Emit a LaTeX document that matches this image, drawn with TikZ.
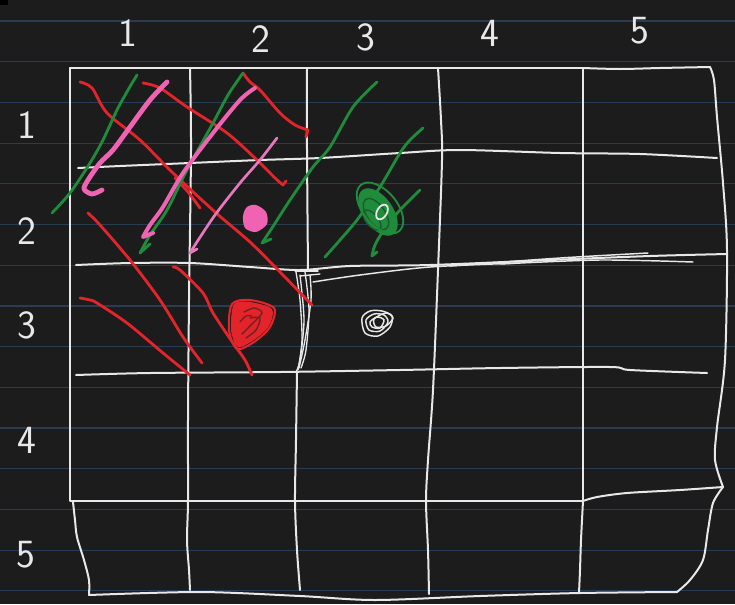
\documentclass[tikz,border=0pt]{standalone}
\usetikzlibrary{calc}
\definecolor{bg}{HTML}{1D1C1D}
\definecolor{rule}{HTML}{293C52}
\definecolor{chalk}{HTML}{E8E8E8}
\definecolor{pen red}{HTML}{E3242B}
\definecolor{pen green}{HTML}{1F8C3C}
\definecolor{pen pink}{HTML}{F062B2}
\definecolor{pen pink2}{HTML}{E878BE}
\tikzset{
  wl/.style={draw=chalk, line width=1.5pt, line cap=round, line join=round},
  rs/.style={draw=pen red, line width=2.1pt, line cap=round, line join=round},
  gs/.style={draw=pen green, line width=2.1pt, line cap=round, line join=round},
  ps/.style={draw=pen pink, line width=3.6pt, line cap=round, line join=round},
  pt/.style={draw=pen pink2, line width=2pt, line cap=round, line join=round},
  lbl/.style={text=chalk, font=\sffamily\fontsize{30}{30}\selectfont, inner sep=0pt},
}
\begin{document}
\begin{tikzpicture}[x=0.75pt,y=-0.75pt]
\useasboundingbox (0,0) rectangle (735,604);
\fill[bg] (0,0) rectangle (735,604);
\fill[black] (0,0) rectangle (8,5);
% notebook rules
\foreach \k in {0,...,14}{
  \draw[rule, line width=0.9pt] (0,{21+40.7*\k}) -- (735,{21+40.7*\k});
}
% ---------- grid ----------
\draw[wl] (70,68) -- (583,68);
\draw[wl] plot[smooth] coordinates {(583,68)(620,69)(660,68)(710,67)};
\draw[wl] plot[smooth] coordinates {(710,67)(714,80)(717,117)(723,183)(727,250)(725,360)(717,427)(715,460)(723,487)};
\draw[wl] plot[smooth] coordinates {(723,487)(713,503)(708,530)(703,560)(690,580)(677,592)};
\draw[wl] (70,68) -- (70,501) -- (583,501);
\draw[wl] plot[smooth] coordinates {(583,501)(597,497)(627,493)(680,490)(723,487)};
\draw[wl] (583,68) -- (583,501);
\draw[wl] plot[smooth] coordinates {(73,502)(75,520)(77,537)(84,560)(89,580)(89,595)};
\draw[wl] plot[smooth] coordinates {(89,595)(200,592)(300,596)(375,600)(480,596)(580,593)(677,592)};
\draw[wl] plot[smooth] coordinates {(190,68)(191,150)(189,300)(188,420)(188,501)(187,540)(189,570)(190,590)};
\draw[wl] plot[smooth] coordinates {(307,68)(307,150)(308,270)};
\draw[wl] plot[smooth] coordinates {(297,372)(296,440)(295,501)(297,550)(300,590)};
\draw[wl] plot[smooth] coordinates {(438,68)(441,120)(442,160)(438,270)(433,390)(428,460)(426,501)(428,550)(429,594)};
\draw[wl] plot[smooth] coordinates {(583,501)(581,540)(580,570)(579,593)};
\draw[wl] plot[smooth] coordinates {(78,168)(120,166)(190,163)(260,160)(320,158)(400,153)(460,150)(560,153)(640,154)(717,158)};
\draw[wl] plot[smooth] coordinates {(76,265)(130,263)(190,263)(250,267)(300,270)(350,266)(430,265)(550,260)(650,256)(727,254)};
\draw[wl, line width=1.1pt] plot[smooth] coordinates {(313,282)(360,275)(430,267)(520,263)};
\draw[wl, line width=1.1pt] plot[smooth] coordinates {(450,266)(560,258)(648,253)};
\draw[wl, line width=1.1pt] plot[smooth] coordinates {(500,264)(600,260)(693,262)};
\draw[wl] plot[smooth] coordinates {(76,375)(150,373)(280,372)(400,370)(500,368)(610,367)(630,370)(707,373)};
% scribbled wall
\draw[wl, line width=1pt] plot[smooth] coordinates {(296,272)(300,300)(302,340)(298,370)};
\draw[wl, line width=1pt] plot[smooth] coordinates {(300,275)(304,320)(300,360)(296,372)};
\draw[wl, line width=1pt] plot[smooth] coordinates {(305,272)(309,310)(306,350)(301,368)};
\draw[wl, line width=1pt] plot[smooth] coordinates {(310,275)(311,300)(305,340)(299,368)};
\draw[wl, line width=1pt] (295,271) -- (318,271);
\draw[wl, line width=1pt] (300,276) -- (320,274);
% ---------- labels ----------
\node[lbl] (c1) at (128,33) {1};
\node[lbl] (c2) at (261,39) {2};
\node[lbl] (c3) at (366,37) {3};
\node[lbl] (c4) at (490,33) {4};
\node[lbl] (c5) at (640,31) {5};
\node[lbl] (r1) at (27,125) {1};
\node[lbl] (r2) at (27,231) {2};
\node[lbl] (r3) at (27,325) {3};
\node[lbl] (r4) at (27,440) {4};
\node[lbl] (r5) at (26,555) {5};
% ---------- red strokes ----------
\draw[rs] plot[smooth] coordinates {(80,82)(92,88)(107,113)(140,140)(173,173)(215,212)(250,242)(280,272)(312,305)};
\draw[rs] plot[smooth] coordinates {(175,178)(188,192)(200,208)};
\draw[rs] plot[smooth] coordinates {(143,83)(160,88)(187,107)(227,133)(257,160)(275,178)(283,185)} -- (286,181);
\draw[rs] plot[smooth] coordinates {(243,73)(250,82)(260,90)(280,113)(295,125)(308,130)} -- (306,137);
\draw[rs] plot[smooth] coordinates {(88,213)(100,225)(130,260)(160,300)(183,337)(202,363)};
\draw[rs] plot[smooth] coordinates {(80,298)(90,300)(97,303)(127,323)(163,353)(190,375)};
\draw[rs] plot[smooth] coordinates {(173,267)(180,270)(203,293)(213,313)(233,343)(245,360)(252,375)};
% red blob (scribble)
\fill[pen red] plot[smooth cycle] coordinates {(234,304)(250,302)(272,309)(269,326)(254,340)(238,347)(231,330)};
\draw[line width=1.1pt, draw=pen red!45!bg, line cap=round] plot[smooth] coordinates {(244,312)(254,308)(262,313)(250,326)(242,334)};
\draw[line width=1.1pt, draw=pen red!45!bg, line cap=round] plot[smooth] coordinates {(250,318)(260,318)(256,330)(246,338)};
\draw[line width=1pt, draw=pen red!45!bg, line cap=round] plot[smooth] coordinates {(240,322)(246,316)(252,316)};
\draw[rs, line width=1.5pt] plot[smooth cycle] coordinates {(232,304)(250,300)(274,308)(270,327)(254,342)(237,349)(229,330)};
% ---------- green strokes ----------
\draw[gs] plot[smooth] coordinates {(137,75)(128,90)(117,110)(103,140)(90,163)(70,193)(52,213)};
\draw[gs] plot[smooth] coordinates {(243,73)(228,95)(213,123)(187,170)(167,210)(150,235)(140,253)} -- (150,244);
\draw[gs] plot[smooth] coordinates {(377,82)(353,107)(330,147)(313,167)(290,200)(272,228)(262,243)} -- (271,239);
\draw[gs] plot[smooth] coordinates {(423,128)(410,140)(400,153)(380,187)(357,220)(340,240)(325,257)};
\draw[gs] plot[smooth] coordinates {(420,190)(400,210)(385,228)(375,245)(372,256)} -- (377,252);
% green blob
\fill[pen green, rotate around={-55:(378,212)}] (378,212) ellipse (27 and 15);
\draw[gs, line width=1.1pt, draw=pen green!55!bg, rotate around={-55:(376,214)}] (376,214) ellipse (18 and 9);
\draw[gs, line width=1.1pt, draw=pen green!55!bg, rotate around={-50:(372,220)}] (372,220) ellipse (12 and 6);
\draw[gs, line width=1.4pt, rotate around={-50:(380,208)}] (380,208) ellipse (30 and 17);
\draw[draw=chalk, line width=1.3pt, rotate around={-30:(382,212)}] (382,212) ellipse (5 and 8);
% ---------- pink strokes ----------
\draw[ps] plot[smooth] coordinates {(167,82)(150,100)(130,127)(113,150)(100,163)(88,180)(84,189)(92,194)(102,190)};
\draw[ps, line width=3pt] plot[smooth] coordinates {(255,88)(240,100)(213,133)(183,173)(163,207)(150,225)(143,237)} -- (153,233);
\draw[pt] plot[smooth] coordinates {(277,138)(260,160)(240,183)(215,215)(195,245)(190,253)} -- (197,249);
\fill[pen pink] plot[smooth cycle] coordinates {(247,207)(256,205)(266,212)(267,224)(256,232)(245,228)(243,216)};
% ---------- white blob ----------
\draw[draw=chalk, line width=1.1pt] plot[smooth cycle] coordinates {(362,318)(370,311)(382,311)(392,316)(390,327)(378,336)(365,333)};
\draw[draw=chalk, line width=1.1pt] plot[smooth cycle] coordinates {(366,320)(374,314)(384,315)(388,322)(380,331)(369,330)};
\draw[draw=chalk, line width=1.1pt] plot[smooth cycle] coordinates {(370,322)(377,317)(384,320)(380,328)(372,327)};
\draw[draw=chalk, line width=1.1pt] plot[smooth cycle] coordinates {(374,319)(386,313)(393,318)(386,326)(376,327)};
\end{tikzpicture}
\end{document}
